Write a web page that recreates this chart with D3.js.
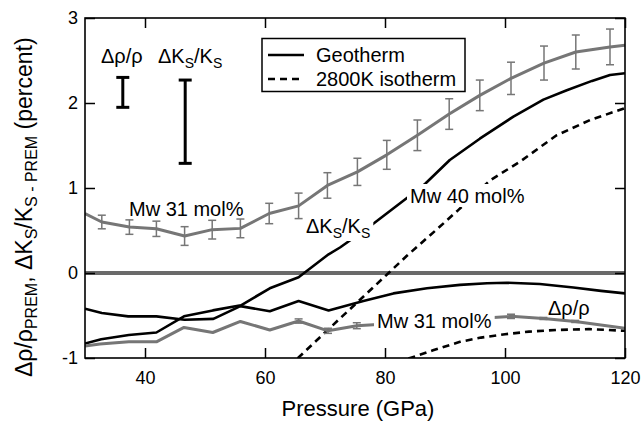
<!DOCTYPE html>
<html><head><meta charset="utf-8">
<script src="https://cdn.jsdelivr.net/npm/d3@7"></script>
<style>
html,body{margin:0;padding:0;background:#fff;}
text{font-family:"Liberation Sans",Arial,Helvetica,sans-serif;}
</style></head>
<body><svg id="chart" width="644" height="428"></svg>
<script>
// ---------------- data ----------------
const xTicks = [40, 60, 80, 100, 120];
const yTicks = [-1, 0, 1, 2, 3];

// ΔKs/Ks, Mw 31 mol% (gray, with error bars)
const ksMw31P   = [30, 32.8, 37.4, 41.9, 46.6, 51.2, 55.9, 60.7, 65.6, 70.4, 75.4, 80.3, 85.4, 90.7, 95.8, 101.0, 106.5, 111.8, 117.5, 120];
const ksMw31V   = [0.70, 0.60, 0.54, 0.52, 0.435, 0.51, 0.525, 0.70, 0.79, 1.03, 1.19, 1.39, 1.62, 1.87, 2.09, 2.29, 2.47, 2.60, 2.66, 2.68];
const ksMw31Err = [null, 0.08, 0.085, 0.09, 0.11, 0.11, 0.11, 0.12, 0.15, 0.15, 0.16, 0.17, 0.18, 0.18, 0.18, 0.19, 0.20, 0.20, 0.21, null];

// ΔKs/Ks, Mw 40 mol%, geotherm (black solid)
const ksGeoP = [30, 32.7, 37.3, 41.9, 46.5, 51.3, 56.0, 60.8, 65.6, 70.6, 72.5, 77.5, 83.6, 86.7, 90.8, 95.8, 101.4, 106.4, 110.3, 114.5, 117.5, 120];
const ksGeoV = [-0.83, -0.78, -0.73, -0.70, -0.51, -0.44, -0.38, -0.18, -0.05, 0.22, 0.30, 0.55, 0.88, 1.05, 1.33, 1.58, 1.84, 2.04, 2.15, 2.26, 2.33, 2.35];

// ΔKs/Ks, Mw 40 mol%, 2800K isotherm (black dashed)
const ksIsoP = [64, 65.5, 70, 75, 80.6, 83.6, 88.9, 92.2, 97.5, 102.5, 108.6, 114.2, 120];
const ksIsoV = [-1.1, -1.0, -0.70, -0.37, 0.0, 0.20, 0.53, 0.74, 1.09, 1.31, 1.62, 1.80, 1.94];

// Δρ/ρ, geotherm (black solid)
const rhoGeoP = [30, 32.8, 37.2, 41.9, 46.6, 51.4, 55.9, 60.8, 65.6, 70.6, 76.4, 81.4, 87, 92.5, 97, 100.3, 105.8, 111.4, 116, 120];
const rhoGeoV = [-0.42, -0.47, -0.51, -0.51, -0.55, -0.54, -0.39, -0.45, -0.33, -0.44, -0.33, -0.24, -0.18, -0.14, -0.12, -0.115, -0.13, -0.17, -0.21, -0.24];

// Δρ/ρ, 2800K isotherm (black dashed)
const rhoIsoP = [82, 84.2, 88, 92.5, 96, 100, 104, 108.6, 114, 120];
const rhoIsoV = [-1.05, -1.0, -0.91, -0.81, -0.76, -0.72, -0.69, -0.67, -0.66, -0.68];

// Δρ/ρ, Mw 31 mol% (gray, with error bars)
const rhoMw31P   = [30, 32.5, 37.3, 41.9, 46.5, 51.3, 55.9, 60.8, 65.6, 70.5, 75.3, 101.0, 106.4, 111.7, 120];
const rhoMw31V   = [-0.86, -0.835, -0.81, -0.81, -0.64, -0.70, -0.57, -0.67, -0.565, -0.68, -0.62, -0.51, -0.535, -0.57, -0.65];
const rhoMw31Err = [null, null, null, null, null, null, null, null, 0.025, 0.03, 0.035, 0.025, 0.012, 0.012, null];

// reference uncertainty bars (top-left)
const refBarP   = [36.3, 46.7];
const refBarV   = [2.125, 1.78];
const refBarErr = [0.176, 0.49];

// ---------------- drawing ----------------
const svg = d3.select("#chart");
const L = 85, T = 18, R = 625, B = 358;
const x = d3.scaleLinear().domain([30, 120]).range([L, R]);
const y = d3.scaleLinear().domain([-1, 3]).range([B, T]);
const GRAY = "#767676";

svg.append("defs").append("clipPath").attr("id", "clip")
  .append("rect").attr("x", L).attr("y", T).attr("width", R - L).attr("height", B - T);

const plot = svg.append("g").attr("clip-path", "url(#clip)");
const zip = (P, V) => P.map((p, i) => [p, V[i]]);
const line = d3.line().x(d => x(d[0])).y(d => y(d[1]));

// zero line
plot.append("line").attr("x1", x(30)).attr("x2", x(120)).attr("y1", y(0)).attr("y2", y(0))
  .attr("stroke", "#6a6a6a").attr("stroke-width", 4);

function drawLine(P, V, color, w, dash) {
  plot.append("path").datum(zip(P, V)).attr("d", line).attr("fill", "none")
    .attr("stroke", color).attr("stroke-width", w)
    .attr("stroke-dasharray", dash || null).attr("stroke-linejoin", "round");
}
function drawErr(P, V, E, color, w, cap) {
  const g = plot.append("g").attr("stroke", color).attr("stroke-width", w);
  P.forEach((p, i) => {
    if (E[i] == null) return;
    const cx = x(p), y1 = y(V[i] + E[i]), y2 = y(V[i] - E[i]);
    g.append("line").attr("x1", cx).attr("x2", cx).attr("y1", y1).attr("y2", y2);
    g.append("line").attr("x1", cx - cap).attr("x2", cx + cap).attr("y1", y1).attr("y2", y1);
    g.append("line").attr("x1", cx - cap).attr("x2", cx + cap).attr("y1", y2).attr("y2", y2);
  });
}

drawLine(rhoIsoP, rhoIsoV, "#000", 2.6, "7,5");
drawLine(ksIsoP, ksIsoV, "#000", 2.6, "7,5");
drawLine(rhoGeoP, rhoGeoV, "#000", 2.6);
drawLine(ksGeoP, ksGeoV, "#000", 2.6);
drawLine(rhoMw31P, rhoMw31V, GRAY, 3);
drawErr(rhoMw31P, rhoMw31V, rhoMw31Err, GRAY, 1.5, 4);
drawLine(ksMw31P, ksMw31V, GRAY, 3);
drawErr(ksMw31P, ksMw31V, ksMw31Err, GRAY, 1.5, 4);

// reference bars
drawErr(refBarP, refBarV, refBarErr, "#000", 3, 6.5);

// ---------------- labels ----------------
function label(xp, yp, parts, size, box) {
  const g = svg.append("g");
  const t = g.append("text").attr("x", xp).attr("y", yp).attr("font-size", size);
  parts.forEach(p => {
    const s = t.append("tspan").text(p.t);
    if (p.sub) s.attr("font-size", size * 0.7).attr("dy", 5);
    if (p.back) s.attr("dy", -5);
  });
  if (box) {
    const bb = t.node().getBBox();
    g.insert("rect", "text").attr("x", bb.x - 3).attr("y", bb.y - 1)
      .attr("width", bb.width + 6).attr("height", bb.height + 1).attr("fill", "#fff");
  }
  return g;
}
label(101, 63, [{t: "Δρ/ρ"}], 20);
label(158, 63, [{t: "ΔK"}, {t: "S", sub: true}, {t: "/K", back: true}, {t: "S", sub: true}], 20);
label(129, 216, [{t: "Mw 31 mol%"}], 20);
label(306, 233, [{t: "ΔK"}, {t: "S", sub: true}, {t: "/K", back: true}, {t: "S", sub: true}], 20, true);
label(410, 203, [{t: "Mw 40 mol%"}], 20, true);
label(377, 328, [{t: "Mw 31 mol%"}], 20, true);
label(548, 315, [{t: "Δρ/ρ"}], 20);

// legend
const lg = svg.append("g");
lg.append("rect").attr("x", 262).attr("y", 38.5).attr("width", 203).attr("height", 53)
  .attr("fill", "#fff").attr("stroke", "#000").attr("stroke-width", 1.5);
lg.append("line").attr("x1", 268).attr("x2", 304).attr("y1", 55).attr("y2", 55)
  .attr("stroke", "#000").attr("stroke-width", 2.6);
lg.append("line").attr("x1", 268).attr("x2", 304).attr("y1", 79).attr("y2", 79)
  .attr("stroke", "#000").attr("stroke-width", 2.6).attr("stroke-dasharray", "7,5");
lg.append("text").attr("x", 316).attr("y", 62).attr("font-size", 20).text("Geotherm");
lg.append("text").attr("x", 316).attr("y", 86).attr("font-size", 20).text("2800K isotherm");

// ---------------- axes ----------------
const fmt = d => String(d);
const ax = (g, a) => { g.call(a); g.select(".domain").remove(); g.selectAll("line").attr("stroke-width", 1.5); g.selectAll("text").attr("font-size", 18).attr("fill", "#000"); };
svg.append("g").attr("transform", `translate(0,${B})`)
  .call(g => ax(g, d3.axisBottom(x).tickValues(xTicks).tickFormat(fmt).tickSizeInner(-10).tickSizeOuter(0).tickPadding(13)));
svg.append("g").attr("transform", `translate(0,${T})`)
  .call(g => ax(g, d3.axisTop(x).tickValues(xTicks).tickFormat("").tickSizeInner(-10).tickSizeOuter(0)));
svg.append("g").attr("transform", `translate(${L},0)`)
  .call(g => ax(g, d3.axisLeft(y).tickValues(yTicks).tickFormat(fmt).tickSizeInner(-10).tickSizeOuter(0).tickPadding(7)));
svg.append("g").attr("transform", `translate(${R},0)`)
  .call(g => ax(g, d3.axisRight(y).tickValues(yTicks).tickFormat("").tickSizeInner(-10).tickSizeOuter(0)));
svg.selectAll("g.tick text").attr("font-family", '"Liberation Sans",Arial,sans-serif');

svg.append("rect").attr("x", L).attr("y", T).attr("width", R - L).attr("height", B - T)
  .attr("fill", "none").attr("stroke", "#000").attr("stroke-width", 1.6);

// axis titles
svg.append("text").attr("x", 358).attr("y", 416).attr("text-anchor", "middle")
  .attr("font-size", 22).text("Pressure (GPa)");
const yt = svg.append("text").attr("transform", "translate(32,377) rotate(-90)").attr("font-size", 23);
[{t: "Δρ/ρ"}, {t: "PREM", sub: 1}, {t: ", ΔK", back: 1}, {t: "S", sub: 1}, {t: "/K", back: 1}, {t: "S - PREM", sub: 1}, {t: " (percent)", back: 1}]
  .forEach(p => {
    const s = yt.append("tspan").text(p.t);
    if (p.sub) s.attr("font-size", 16).attr("dy", 5);
    if (p.back) s.attr("dy", -5);
  });
</script></body></html>
